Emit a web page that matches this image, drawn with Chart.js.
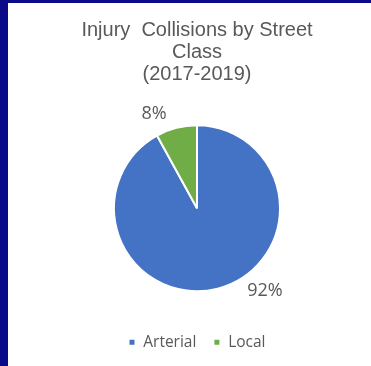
<!DOCTYPE html>
<html>
<head>
<meta charset="utf-8">
<script src="https://cdn.jsdelivr.net/npm/chart.js@4"></script>
<style>
  html, body { margin: 0; padding: 0; }
  body { background: #0b0b8a; width: 371px; height: 366px; overflow: hidden; position: relative; }
  #wrap { position: absolute; left: 8px; top: 3px; width: 363px; height: 363px; background: #fff; }
</style>
</head>
<body>
<div id="wrap"><canvas id="pieChart" width="363" height="363"></canvas></div>
<script>
// street classes and share of injury collisions (percent)
var streetClasses = ["Arterial", "Local"];
var collisionShare = [92, 8];
var sliceColors = ["#4472C4", "#70AD47"];
var titleLines = ["Injury  Collisions by Street", "Class", "(2017-2019)"];

// percent labels outside the pie, nudged the way the office chart places them
var outsideLabels = {
  id: "outsideLabels",
  afterDatasetsDraw: function (chart, args, opts) {
    var ctx = chart.ctx;
    var meta = chart.getDatasetMeta(0);
    ctx.save();
    ctx.font = opts.font;
    ctx.fillStyle = opts.color;
    ctx.textAlign = "center";
    ctx.textBaseline = "middle";
    meta.data.forEach(function (arc, i) {
      var p = arc.getProps(["x", "y", "startAngle", "endAngle", "outerRadius"], true);
      var mid = (p.startAngle + p.endAngle) / 2;
      var r = p.outerRadius + opts.gap;
      var nudge = opts.nudge[i] || [0, 0];
      var x = p.x + Math.cos(mid) * r + nudge[0];
      var y = p.y + Math.sin(mid) * r + nudge[1];
      ctx.fillText(chart.data.datasets[0].data[i] + "%", x, y);
    });
    ctx.restore();
  }
};

new Chart(document.getElementById("pieChart"), {
  type: "pie",
  data: {
    labels: streetClasses,
    datasets: [{
      data: collisionShare,
      backgroundColor: sliceColors,
      borderColor: "#ffffff",
      borderWidth: 2,
      radius: 83
    }]
  },
  options: {
    responsive: false,
    animation: false,
    layout: { padding: { left: 15, right: 0, top: 0, bottom: 6 } },
    plugins: {
      title: {
        display: true,
        text: titleLines,
        color: "#595959",
        font: { family: "'Liberation Sans', Arial, sans-serif", size: 20, weight: "normal", lineHeight: 1.1 },
        padding: { top: 16, bottom: 14 }
      },
      legend: {
        position: "bottom",
        labels: {
          boxWidth: 7,
          boxHeight: 7,
          padding: 17,
          color: "#595959",
          font: { family: "'Open Sans', sans-serif", size: 15.5 }
        }
      },
      tooltip: { enabled: false },
      outsideLabels: {
        font: "18px 'Open Sans', sans-serif",
        color: "#595959",
        gap: 21,
        nudge: [[42, -18], [-17, 6]]
      }
    }
  },
  plugins: [outsideLabels]
});
</script>
</body>
</html>
